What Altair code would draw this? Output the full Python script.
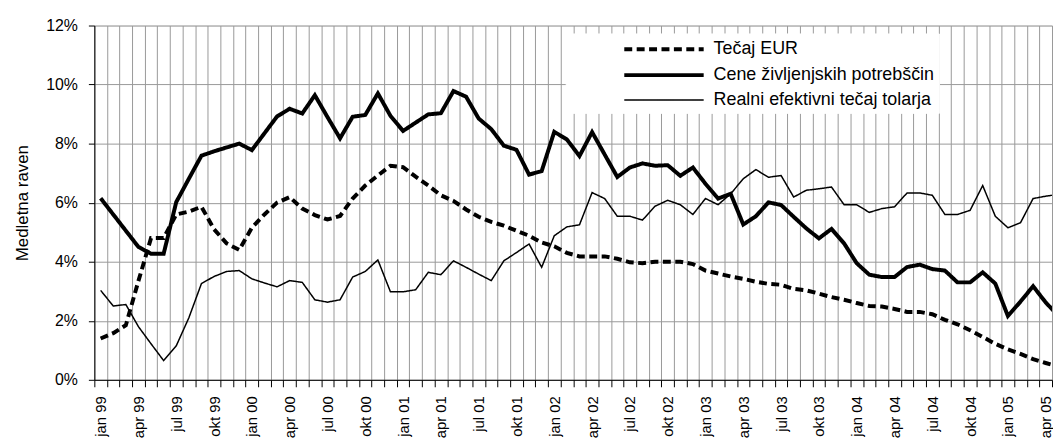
import json
import altair as alt
import pandas as pd

# x-axis tick labels (every third month, jan 99 .. apr 05)
TICK_LABELS = ["jan 99", "apr 99", "jul 99", "okt 99", "jan 00", "apr 00", "jul 00", "okt 00",
               "jan 01", "apr 01", "jul 01", "okt 01", "jan 02", "apr 02", "jul 02", "okt 02",
               "jan 03", "apr 03", "jul 03", "okt 03", "jan 04", "apr 04", "jul 04", "okt 04",
               "jan 05", "apr 05"]

SERIES = ["Tečaj EUR", "Cene življenjskih potrebščin", "Realni efektivni tečaj tolarja"]

# monthly values (%), jan 99 .. maj 05
TECAJ_EUR = [1.40, 1.58, 1.85, 3.35, 4.80, 4.80, 5.60, 5.70, 5.86, 5.10,
             4.62, 4.40, 5.15, 5.60, 6.00, 6.19, 5.80, 5.58, 5.43, 5.55,
             6.14, 6.58, 6.92, 7.25, 7.20, 6.88, 6.58, 6.25, 6.06, 5.77,
             5.52, 5.35, 5.22, 5.05, 4.88, 4.65, 4.52, 4.30, 4.18, 4.18,
             4.18, 4.10, 3.98, 3.95, 4.00, 4.00, 4.00, 3.92, 3.70, 3.60,
             3.50, 3.42, 3.32, 3.25, 3.22, 3.08, 3.03, 2.92, 2.80, 2.71,
             2.60, 2.50, 2.48, 2.40, 2.30, 2.30, 2.22, 2.03, 1.88, 1.68,
             1.45, 1.22, 1.03, 0.88, 0.70, 0.57, 0.45]

CENE = [6.15, 5.60, 5.05, 4.50, 4.27, 4.27, 6.02, 6.81, 7.59, 7.74,
        7.87, 8.00, 7.78, 8.35, 8.92, 9.18, 9.02, 9.64, 8.90, 8.18,
        8.91, 8.97, 9.70, 8.94, 8.43, 8.71, 8.99, 9.03, 9.78, 9.59,
        8.85, 8.49, 7.93, 7.79, 6.95, 7.07, 8.40, 8.14, 7.58, 8.39,
        7.63, 6.87, 7.19, 7.33, 7.25, 7.27, 6.91, 7.19, 6.64, 6.14,
        6.30, 5.26, 5.54, 6.01, 5.92, 5.52, 5.13, 4.79, 5.11, 4.62,
        3.95, 3.56, 3.48, 3.48, 3.82, 3.90, 3.75, 3.70, 3.30, 3.30,
        3.64, 3.26, 2.16, 2.65, 3.17, 2.62, 2.17]

REALNI = [3.03, 2.50, 2.55, 1.80, 1.22, 0.65, 1.15, 2.10, 3.26, 3.50,
          3.67, 3.70, 3.42, 3.28, 3.15, 3.36, 3.30, 2.71, 2.63, 2.71,
          3.48, 3.67, 4.06, 2.98, 2.98, 3.05, 3.64, 3.56, 4.03, 3.81,
          3.58, 3.36, 4.03, 4.31, 4.60, 3.81, 4.88, 5.18, 5.25, 6.34,
          6.14, 5.54, 5.54, 5.41, 5.88, 6.08, 5.93, 5.60, 6.14, 5.93,
          6.30, 6.81, 7.12, 6.86, 6.92, 6.19, 6.42, 6.47, 6.53, 5.93,
          5.93, 5.67, 5.80, 5.86, 6.33, 6.33, 6.25, 5.60, 5.60, 5.74,
          6.58, 5.54, 5.15, 5.32, 6.14, 6.22, 6.28]

MONTHS = list(range(len(CENE)))  # month index, 0 = jan 99

rows = []
for name, vals in zip(SERIES, [TECAJ_EUR, CENE, REALNI]):
    for m, v in zip(MONTHS, vals):
        rows.append({"month": m, "value": v, "series": name})
df = pd.DataFrame(rows)

FONT = "Liberation Sans"
N_CAT = 76  # categories visible: jan 99 .. apr 05

boundaries = [k - 0.5 for k in range(N_CAT + 1)]
centers = [3 * j for j in range(len(TICK_LABELS))]
x_values = sorted(set(boundaries + centers))

label_expr = ("datum.value % 1 === 0 ? " + json.dumps(TICK_LABELS)
              + "[datum.value / 3] : ''")

is_center = "datum.value % 1 === 0"

x_axis = alt.Axis(
    values=x_values,
    title=None,
    labelExpr=label_expr,
    labelAngle=270,
    labelAlign="right",
    labelBaseline="middle",
    labelFontSize=15,
    labelFont=FONT,
    labelColor="black",
    labelPadding=9,
    labelOverlap=False,
    labelFlush=False,
    labelBound=False,
    tickSize=7,
    tickColor="black",
    tickWidth=1,
    tickOpacity={"condition": {"test": is_center, "value": 0}, "value": 1},
    grid=True,
    gridColor="#999999",
    gridWidth=1,
    gridOpacity={"condition": {"test": is_center, "value": 0}, "value": 1},
    domainColor="black",
    domainWidth=1,
)

y_axis = alt.Axis(
    values=[0, 2, 4, 6, 8, 10, 12],
    labelExpr="datum.value + '%'",
    title="Medletna raven",
    titleFont=FONT,
    titleFontSize=17,
    titleFontWeight="normal",
    titleColor="black",
    titlePadding=14,
    labelFont=FONT,
    labelFontSize=16,
    labelColor="black",
    labelPadding=11,
    tickSize=6,
    tickColor="black",
    grid=True,
    gridColor="#999999",
    gridWidth=1,
    domainColor="black",
    domainWidth=1,
)

legend = alt.Legend(
    orient="none",
    legendX=475,
    legendY=8,
    title=None,
    fillColor="white",
    strokeColor="white",
    padding=4,
    symbolType="M-4,0H4",
    symbolSize=400,
    symbolOffset=83,
    symbolStrokeColor="black",
    symbolFillColor="transparent",
    labelOffset=38,
    labelFont=FONT,
    labelFontSize=18,
    labelColor="black",
    labelLimit=600,
    rowPadding=5,
)

chart = alt.Chart(df).mark_line(color="black", clip=True, strokeCap="butt").encode(
    x=alt.X("month:Q", scale=alt.Scale(domain=[-0.5, N_CAT - 0.5], nice=False, zero=False), axis=x_axis),
    y=alt.Y("value:Q", scale=alt.Scale(domain=[0, 12], nice=False), axis=y_axis),
    strokeDash=alt.StrokeDash("series:N", scale=alt.Scale(domain=SERIES, range=[[8, 4.5], [1, 0], [1, 0]]), legend=legend),
    strokeWidth=alt.StrokeWidth("series:N", scale=alt.Scale(type="ordinal", domain=SERIES, range=[4, 4, 1.5]), legend=legend),
    detail="series:N",
).properties(
    width=965,
    height=357,
    padding={"left": 87, "top": 16, "right": 1, "bottom": 59},
    autosize=alt.AutoSizeParams(type="none"),
).configure_view(
    stroke="#808080",
    strokeWidth=1,
).configure(
    font=FONT,
    background="white",
)

chart.save("out.html", embed_options={"renderer": "svg", "actions": False})
